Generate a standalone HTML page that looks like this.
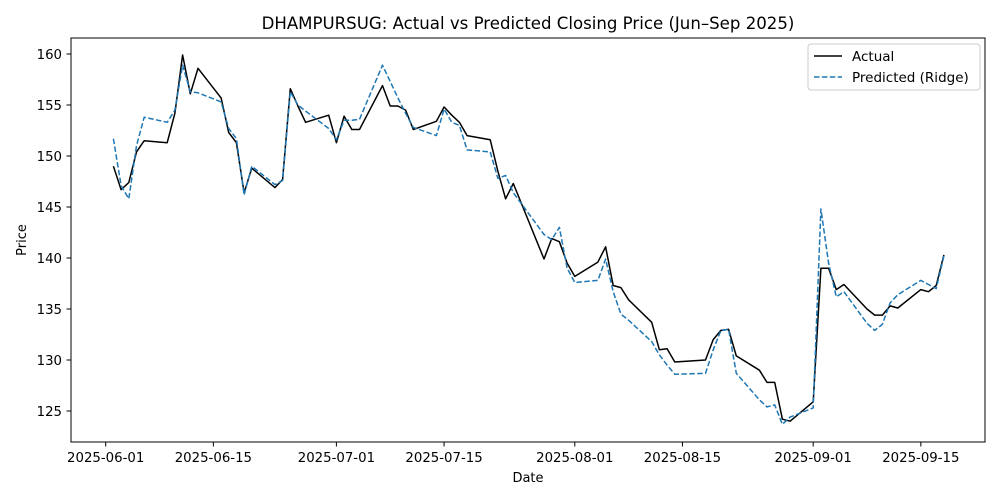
<!DOCTYPE html>
<html><head><meta charset="utf-8"><style>
body{margin:0;background:#fff;}
svg{display:block;font-family:"DejaVu Sans","Liberation Sans",sans-serif;}
</style></head><body>
<svg id="chart" width="1000" height="500">
<text x="528" y="29" font-size="16.6" text-anchor="middle">DHAMPURSUG: Actual vs Predicted Closing Price (Jun–Sep 2025)</text>
<g id="grid"></g>
<g id="plot"></g>
<rect x="71" y="38" width="914" height="404" fill="none" stroke="#000" stroke-width="1"/>
<text x="528" y="482" font-size="13" text-anchor="middle">Date</text>
<text x="26" y="240" font-size="13" text-anchor="middle" transform="rotate(-90 26 240)">Price</text>
<g>
<rect x="808" y="44" width="172" height="46" rx="3" fill="#fff" fill-opacity="0.8" stroke="#ccc"/>
<line x1="814" y1="56" x2="842" y2="56" stroke="#000" stroke-width="1.5"/>
<text x="852" y="61" font-size="13.5">Actual</text>
<line x1="814" y1="77" x2="842" y2="77" stroke="#1f77b4" stroke-width="1.5" stroke-dasharray="5.5,2.4"/>
<text x="852" y="82" font-size="13.5">Predicted (Ridge)</text>
</g>
</svg>
<script>
const dates=["2025-06-02","2025-06-03","2025-06-04","2025-06-05","2025-06-06","2025-06-09","2025-06-10","2025-06-11","2025-06-12","2025-06-13","2025-06-16","2025-06-17","2025-06-18","2025-06-19","2025-06-20","2025-06-23","2025-06-24","2025-06-25","2025-06-26","2025-06-27","2025-06-30","2025-07-01","2025-07-02","2025-07-03","2025-07-04","2025-07-07","2025-07-08","2025-07-09","2025-07-10","2025-07-11","2025-07-14","2025-07-15","2025-07-16","2025-07-17","2025-07-18","2025-07-21","2025-07-22","2025-07-23","2025-07-24","2025-07-28","2025-07-29","2025-07-30","2025-07-31","2025-08-01","2025-08-04","2025-08-05","2025-08-06","2025-08-07","2025-08-08","2025-08-11","2025-08-12","2025-08-13","2025-08-14","2025-08-18","2025-08-19","2025-08-20","2025-08-21","2025-08-22","2025-08-25","2025-08-26","2025-08-27","2025-08-28","2025-08-29","2025-09-01","2025-09-02","2025-09-03","2025-09-04","2025-09-05","2025-09-08","2025-09-09","2025-09-10","2025-09-11","2025-09-12","2025-09-15","2025-09-16","2025-09-17","2025-09-18"];
const actual=[149.0,146.7,147.4,150.4,151.5,151.3,154.2,159.9,156.1,158.6,155.7,152.3,151.3,146.4,148.8,146.9,147.7,156.6,154.9,153.3,154.0,151.3,153.9,152.6,152.6,156.9,154.9,154.9,154.5,152.6,153.4,154.8,154.0,153.3,152.0,151.6,148.5,145.8,147.3,139.9,141.9,141.6,139.5,138.2,139.6,141.1,137.3,137.1,135.9,133.7,131.0,131.1,129.8,130.0,132.0,132.9,133.0,130.4,129.0,127.8,127.8,124.2,124.0,125.9,139.0,139.0,136.9,137.4,135.0,134.4,134.4,135.3,135.1,136.9,136.7,137.3,140.3];
const predicted=[151.7,147.1,145.8,151.0,153.8,153.3,154.5,158.9,156.3,156.2,155.3,152.7,151.7,146.2,149.0,147.2,147.6,156.3,155.0,154.4,152.7,151.6,153.5,153.5,153.6,158.9,157.3,155.7,154.2,152.8,152.0,154.6,153.3,153.0,150.6,150.4,147.8,148.1,146.4,142.3,141.8,143.0,139.0,137.6,137.8,139.9,136.7,134.5,133.9,131.8,130.5,129.5,128.6,128.7,131.0,132.9,133.0,128.7,126.1,125.4,125.6,123.7,124.4,125.3,144.8,139.5,136.2,136.7,133.6,132.9,133.5,135.6,136.4,137.8,137.4,137.0,140.2];
const yTicks=[125,130,135,140,145,150,155,160];
const xTicks=["2025-06-01","2025-06-15","2025-07-01","2025-07-15","2025-08-01","2025-08-15","2025-09-01","2025-09-15"];
const NS="http://www.w3.org/2000/svg";
const t0=Date.UTC(2025,5,1);
function day(s){const p=s.split("-");return (Date.UTC(+p[0],+p[1]-1,+p[2])-t0)/86400000;}
function xs(s){return 105.7+day(s)*7.69;}
function ys(v){return 411-(v-125)*10.2;}
function mk(tag,attrs,parent){const e=document.createElementNS(NS,tag);for(const k in attrs)e.setAttribute(k,attrs[k]);parent.appendChild(e);return e;}
const grid=document.getElementById("grid"),plot=document.getElementById("plot");
yTicks.forEach(v=>{
  const y=ys(v);
  const l=mk("line",{x1:66.5,x2:71,y1:y,y2:y,stroke:"#000"},grid);
  
  
  const t=mk("text",{x:62,y:y+4.8,"font-size":13.3,"text-anchor":"end"},grid);
  t.textContent=v;
  
  
});
xTicks.forEach(s=>{
  const x=xs(s);
  const l=mk("line",{x1:x,x2:x,y1:442,y2:446.5,stroke:"#000"},grid);
  
  
  const t=mk("text",{x:x,y:462,"font-size":13.3,"text-anchor":"middle"},grid);
  t.textContent=s;
  
  
});
function pts(arr){return arr.map((v,i)=>xs(dates[i]).toFixed(1)+","+ys(v).toFixed(1)).join(" ");}
const pa=mk("polyline",{points:pts(actual),fill:"none",stroke:"#000","stroke-width":1.5,"stroke-linejoin":"round"},plot);


const pp=mk("polyline",{points:pts(predicted),fill:"none",stroke:"#1f77b4","stroke-width":1.5,"stroke-dasharray":"5.5,2.4","stroke-linejoin":"round"},plot);


</script>
</body></html>
